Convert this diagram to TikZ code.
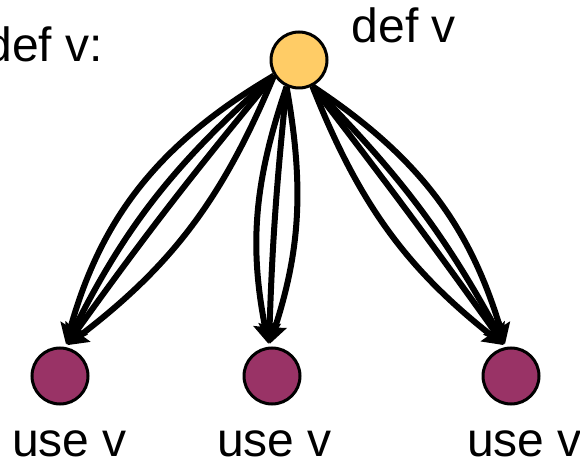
\documentclass[tikz,border=0pt]{standalone}
\usepackage{fontspec}
\setmainfont{Liberation Sans}
\usetikzlibrary{arrows.meta}
\definecolor{defyellow}{HTML}{FFCC66}
\definecolor{usepurple}{HTML}{993366}
\begin{document}
\begin{tikzpicture}[x=1pt,y=1pt,
  defnode/.style={circle,draw=black,line width=3pt,fill=defyellow,minimum size=56pt,inner sep=0pt},
  usenode/.style={circle,draw=black,line width=3pt,fill=usepurple,minimum size=56pt,inner sep=0pt},
  lbl/.style={font=\fontsize{48}{56}\selectfont,inner sep=0pt},
  flow/.style={line width=6pt,-{Stealth[length=20pt,width=22pt,inset=3pt]},shorten >=3pt}]
\useasboundingbox (0,0) rectangle (580,460);
\clip (0,0) rectangle (580,460);
\node[defnode] (d) at (299,400) {};
\node[usenode] (u1) at (60,84) {};
\node[usenode] (u2) at (272,84) {};
\node[usenode] (u3) at (511,84) {};
% left group
\draw[flow] (d.212) to[bend right=22] (u1.80);
\draw[flow] (d.212) to[bend right=11] (u1.80);
\draw[flow] (d.212) to[bend right=2] (u1.80);
\draw[flow] (d.212) to[bend left=15] (u1.80);
% middle group
\draw[flow] (d.245) to[bend right=15] (u2.96);
\draw[flow] (d.245) to[bend right=2] (u2.96);
\draw[flow] (d.245) to[bend left=14] (u2.96);
% right group
\draw[flow] (d.297) to[bend right=15] (u3.100);
\draw[flow] (d.297) to[bend left=1] (u3.100);
\draw[flow] (d.297) to[bend left=8] (u3.100);
\draw[flow] (d.297) to[bend left=20] (u3.100);
% labels
\node[lbl,anchor=base east] (t0) at (103,398) {def v:};
\node[lbl,anchor=base west] (t1) at (351.5,417) {def v};
\node[lbl,anchor=base west] (t2) at (12,4) {use v};
\node[lbl,anchor=base west] (t3) at (217,4) {use v};
\node[lbl,anchor=base west] (t4) at (467,4) {use v};
\end{tikzpicture}
\end{document}
